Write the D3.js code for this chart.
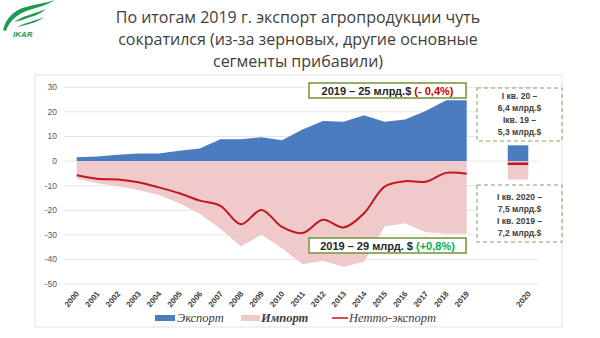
<!DOCTYPE html>
<html><head><meta charset="utf-8">
<script src="https://cdn.jsdelivr.net/npm/d3@7/dist/d3.min.js"></script>
<style>body{margin:0;background:#fff}svg{display:block}</style>
</head><body>
<svg id="c" width="600" height="338"></svg>
<script>
const years = ["2000","2001","2002","2003","2004","2005","2006","2007","2008","2009","2010","2011","2012","2013","2014","2015","2016","2017","2018","2019"];
const exportVals = [1.5,1.9,2.6,3.1,3.1,4.2,5.1,8.9,8.9,9.7,8.5,12.8,16.3,16.0,18.6,16.0,16.9,20.4,24.7,24.7];
const importVals = [-7.2,-9.0,-10.2,-11.8,-13.8,-17.2,-21.4,-27.5,-34.7,-30.0,-35.5,-42.0,-40.5,-43.0,-41.0,-26.6,-25.3,-29.0,-29.6,-29.6];
const netVals = [-5.8,-7.2,-7.5,-8.6,-10.7,-13.1,-16.1,-18.2,-25.7,-19.9,-26.8,-29.3,-23.9,-27.0,-21.2,-10.4,-8.2,-8.4,-4.8,-5.2];
const q1Label = "2020";
const q1Export = 6.4, q1Import = -7.5, q1Net = -1.1;
const yTicks = [30,20,10,0,-10,-20,-30,-40,-50];
const titleLines = ["По итогам 2019 г. экспорт агропродукции чуть","сократился (из-за зерновых, другие основные","сегменты прибавили)"];
const legendItems = [{t:"Экспорт",type:"exp"},{t:"Импорт",type:"imp"},{t:"Нетто-экспорт",type:"net"}];
const boxTop = ["I кв. 20 –","6,4 млрд.$","Iкв. 19 –","5,3 млрд.$"];
const boxBot = ["I кв. 2020 –","7,5 млрд.$","I кв. 2019 –","7,2 млрд.$"];

const svg = d3.select("#c");
const blue = "#4a7cbf", pink = "#f0c9ca", red = "#c0181e", grid = "#e6e6e6";

// frame
svg.append("rect").attr("x",35).attr("y",75).attr("width",527).attr("height",252)
  .attr("fill","none").attr("stroke","#e2e2e2").attr("stroke-width",1);

// logo
const logo = svg.append("g").attr("fill","#1f9a52");
logo.append("path").attr("d","M3,30 C6,18 14,10 26,7 C36,4 46,3 55,0 C46,6 34,8 24,12 C15,16 9,22 6,31 Z");
logo.append("path").attr("d","M14,22 C22,16 34,14 46,9 C40,15 30,17 22,20 Z");
logo.append("path").attr("d","M17,27 C26,22 36,21 44,17 C38,22 30,24 21,26 Z");
logo.append("text").attr("x",13).attr("y",37).attr("font-family","Liberation Sans, Arial").attr("font-size",8)
  .attr("font-weight","bold").attr("font-style","italic").text("IKAR");

// title
svg.append("g").selectAll("text").data(titleLines).join("text")
  .attr("x",298).attr("y",(d,i)=>23+i*22).attr("text-anchor","middle")
  .attr("font-family","Open Sans, Noto Sans").attr("font-size",16).attr("fill","#404040").text(d=>d);

const x = d3.scaleLinear().domain([0,19]).range([76.7,466.7]);
const y = d3.scaleLinear().domain([-50,30]).range([284,87.3]);

// gridlines & y labels
svg.append("g").selectAll("line").data(yTicks).join("line")
  .attr("x1",64).attr("x2",538).attr("y1",d=>y(d)).attr("y2",d=>y(d)).attr("stroke",grid);
svg.append("g").selectAll("text").data(yTicks).join("text")
  .attr("x",57).attr("y",d=>y(d)+3).attr("text-anchor","end")
  .attr("font-family","Liberation Sans, Arial").attr("font-size",8.5).attr("fill","#595959").text(d=>d);

// areas
const idx = years.map((d,i)=>i);
svg.append("path").datum(idx).attr("fill",pink)
  .attr("d",d3.area().x(i=>x(i)).y0(y(0)).y1(i=>y(importVals[i])));
svg.append("path").datum(idx).attr("fill",blue)
  .attr("d",d3.area().x(i=>x(i)).y0(y(0)).y1(i=>y(exportVals[i])));
svg.append("path").datum(idx).attr("fill","none").attr("stroke",red).attr("stroke-width",2)
  .attr("d",d3.line().x(i=>x(i)).y(i=>y(netVals[i])).curve(d3.curveCatmullRom.alpha(0.5)));

// 2020 column
const step = x(1)-x(0);
const cx = x(21.5), bw = step;
svg.append("rect").attr("x",cx-bw/2).attr("width",bw).attr("y",y(0)).attr("height",y(q1Import)-y(0)).attr("fill",pink);
svg.append("rect").attr("x",cx-bw/2).attr("width",bw).attr("y",y(q1Export)).attr("height",y(0)-y(q1Export)).attr("fill",blue);
svg.append("line").attr("x1",cx-bw/2).attr("x2",cx+bw/2).attr("y1",y(q1Net)).attr("y2",y(q1Net)).attr("stroke",red).attr("stroke-width",2.5);

// x labels
const xl = svg.append("g").attr("font-family","Liberation Sans, Arial").attr("font-size",8).attr("font-weight","bold").attr("fill","#404040");
years.concat([q1Label]).forEach((t,i)=>{
  const px = i<20 ? x(i) : x(22);
  xl.append("text").attr("text-anchor","end").attr("transform",`translate(${px+3},${294}) rotate(-50)`).text(t);
});

// legend
const lg = svg.append("g").attr("font-family","Liberation Serif, Times New Roman").attr("font-size",12.5).attr("font-style","italic").attr("fill","#404040");
lg.append("rect").attr("x",155).attr("y",315).attr("width",20).attr("height",6).attr("fill",blue);
lg.append("text").attr("x",177).attr("y",322).text(legendItems[0].t);
lg.append("rect").attr("x",241).attr("y",315).attr("width",19).attr("height",6).attr("fill",pink);
lg.append("text").attr("x",261).attr("y",322).attr("font-weight","bold").text(legendItems[1].t);
lg.append("line").attr("x1",332).attr("x2",348).attr("y1",318).attr("y2",318).attr("stroke",red).attr("stroke-width",1.5);
lg.append("text").attr("x",349).attr("y",322).text(legendItems[2].t);

// green boxes
function gbox(y0, main, pct, pcol){
  svg.append("rect").attr("x",309).attr("y",y0).attr("width",157).attr("height",15)
    .attr("fill","#fff").attr("stroke","#7a9a3c").attr("stroke-width",1.6);
  const t = svg.append("text").attr("x",387.5).attr("y",y0+11.5).attr("text-anchor","middle")
    .attr("font-family","Liberation Sans, Arial").attr("font-size",11).attr("font-weight","bold").attr("fill","#262626");
  t.append("tspan").text(main);
  t.append("tspan").attr("fill",pcol).text(pct);
}
gbox(83,"2019 – 25 млрд.$ ","(- 0,4%)","#c00000");
gbox(238,"2019 – 29 млрд. $ ","(+0,8%)","#00b050");

// dashed boxes
function dbox(y0,h,lines,ty){
  svg.append("rect").attr("x",477).attr("y",y0).attr("width",85).attr("height",h)
    .attr("fill","#fff").attr("stroke","#8c9a6a").attr("stroke-width",1).attr("stroke-dasharray","4,3");
  svg.append("g").selectAll("text").data(lines).join("text")
    .attr("x",519.5).attr("y",(d,i)=>ty+i*12).attr("text-anchor","middle")
    .attr("font-family","Liberation Sans, Arial").attr("font-size",8.5).attr("font-weight","bold").attr("fill","#404040").text(d=>d);
}
dbox(88,53,boxTop,99);
dbox(185,57,boxBot,200);
</script>
</body></html>
